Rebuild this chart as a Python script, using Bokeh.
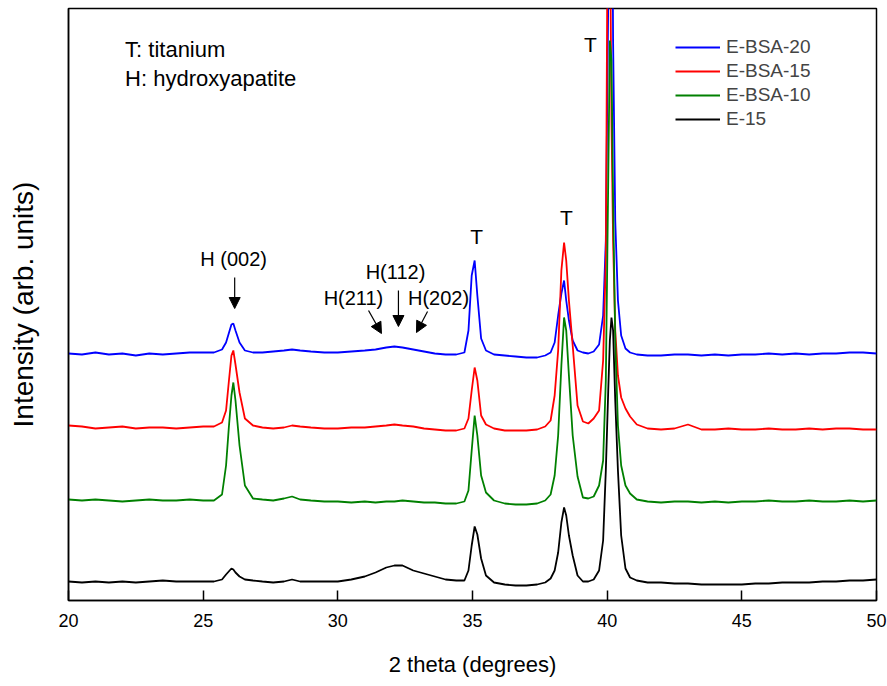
from bokeh.plotting import figure
from bokeh.models import (Range1d, FixedTicker, Label, Arrow, NormalHead,
                          Legend, LegendItem)
from bokeh.embed import file_html
from bokeh.resources import INLINE

FONT = "Liberation Sans"

# 2 theta (degrees), shared sampling grid
two_theta = [
    20, 20.5, 21, 21.5, 22, 22.5, 23, 23.5, 24, 24.5, 25,
    25.4, 25.7, 25.85, 25.95, 26.05, 26.12, 26.2, 26.35, 26.55, 26.85,
    27.2, 27.6, 28, 28.3, 28.6, 29, 29.5, 30, 30.5, 31, 31.4, 31.8, 32.1, 32.4, 32.8, 33.2, 33.6, 34, 34.4, 34.7,
    34.85, 34.97, 35.08, 35.18, 35.32, 35.5, 35.8,
    36.2, 36.6, 37, 37.4, 37.7, 37.9, 38.05, 38.18, 38.3, 38.4, 38.48, 38.58, 38.72, 38.9,
    39.1, 39.3, 39.5, 39.7, 39.85, 39.95, 40.04, 40.1, 40.16, 40.22, 40.3, 40.4, 40.52, 40.68, 40.85, 41.1, 41.5,
    42, 42.5, 43, 43.5, 44, 44.5, 45, 45.5, 46, 46.5, 47, 47.5, 48, 48.5, 49, 49.5, 50,
]

# intensities (arb. units, already vertically offset)
e_bsa_20 = [
    247, 246, 248, 246, 247, 245, 247, 246, 247, 248, 248,
    248, 251, 258, 267, 276, 277, 270, 258, 250, 248,
    248, 249, 250, 251, 250, 249, 248, 248, 249, 250, 251, 253, 254, 253, 251, 249, 247, 246, 246, 248,
    270, 325, 340, 305, 262, 250, 246,
    245, 244, 243, 243, 245, 248, 258, 285, 307, 320, 300, 280, 260, 250,
    248, 247, 249, 256, 285, 360, 600, 900, 850, 560, 380, 300, 265, 252, 248, 246, 245,
    245, 246, 246, 245, 246, 245, 246, 246, 247, 246, 247, 246, 247, 247, 248, 248, 247,
]
e_bsa_15 = [
    175, 174, 172, 173, 174, 172, 173, 173, 172, 173, 174,
    174, 178, 190, 218, 245, 250, 236, 208, 182, 175,
    173, 172, 173, 175, 174, 173, 172, 172, 173, 173, 174, 175, 176, 175, 174, 172, 171, 170, 170, 172,
    182, 210, 233, 220, 185, 176, 172,
    170, 170, 170, 171, 174, 180, 205, 250, 330, 358, 340, 300, 255, 195,
    179, 177, 182, 190, 240, 340, 800, 700, 480, 360, 270, 225, 203, 192, 184, 176, 172,
    171, 172, 176, 171, 171, 172, 171, 171, 172, 171, 171, 172, 171, 172, 172, 171, 171,
]
e_bsa_10 = [
    101, 100, 101, 100, 99, 100, 101, 100, 100, 101, 100,
    100, 106, 135, 172, 205, 218, 200, 155, 115, 102,
    101, 100, 102, 104, 101, 100, 99, 99, 98, 99, 98, 99, 99, 100, 99, 98, 98, 97, 97, 99,
    110, 150, 185, 165, 125, 108, 100,
    97, 96, 96, 97, 100, 106, 125, 165, 235, 283, 270, 225, 165, 124,
    103, 102, 104, 115, 140, 220, 420, 560, 540, 400, 260, 175, 135, 115, 107, 101, 99,
    98, 99, 99, 98, 99, 98, 99, 99, 100, 99, 99, 100, 99, 99, 100, 99, 100,
]
e_15 = [
    19, 18, 19, 18, 19, 18, 19, 20, 19, 19, 19,
    19, 21, 26, 29, 32, 31, 28, 24, 21, 20,
    19, 18, 19, 21, 19, 19, 19, 19, 21, 24, 28, 33, 35, 35, 30, 27, 24, 21, 20, 20,
    30, 55, 74, 66, 42, 25, 18,
    16, 15, 15, 16, 18, 22, 30, 48, 78, 93, 85, 65, 45, 25,
    19, 19, 21, 30, 60, 130, 210, 260, 283, 270, 200, 130, 65, 32, 23, 20, 18,
    18, 17, 17, 16, 16, 16, 16, 17, 17, 18, 18, 18, 19, 19, 20, 20, 21,
]

series_names = ["E-BSA-20", "E-BSA-15", "E-BSA-10", "E-15"]
series_colors = ["#0000ff", "#ff0000", "#008000", "#000000"]

x_ticks = [20, 25, 30, 35, 40, 45, 50]

p = figure(width=887, height=686, x_range=Range1d(20, 50), y_range=Range1d(0, 592),
           output_backend="svg", toolbar_location=None,
           min_border_left=68, min_border_right=11, min_border_top=8, min_border_bottom=86)
p.xgrid.visible = False
p.ygrid.visible = False
p.outline_line_color = "black"
p.outline_line_width = 1.5
p.background_fill_color = "white"

ys = [e_bsa_20, e_bsa_15, e_bsa_10, e_15]
renderers = []
for name, col, yv in zip(series_names, series_colors, ys):
    r = p.line(two_theta, yv, line_color=col, line_width=1.8)
    renderers.append(r)

# x axis
xa = p.xaxis[0]
xa.ticker = FixedTicker(ticks=x_ticks)
xa.major_tick_in = 10
xa.major_tick_out = 0
xa.minor_tick_in = 0
xa.minor_tick_out = 0
xa.axis_line_width = 1.5
xa.major_tick_line_width = 1.5
xa.major_label_text_font = FONT
xa.major_label_text_font_size = "18px"
xa.major_label_text_color = "black"
xa.major_label_standoff = 13
xa.axis_label = "2 theta (degrees)"
xa.axis_label_text_font = FONT
xa.axis_label_text_font_size = "22px"
xa.axis_label_text_font_style = "normal"
xa.axis_label_text_color = "black"
xa.axis_label_standoff = 22

ya = p.yaxis[0]
ya.ticker = FixedTicker(ticks=[])
ya.axis_line_width = 1.5
ya.major_tick_in = 0
ya.major_tick_out = 0
ya.minor_tick_in = 0
ya.minor_tick_out = 0
ya.axis_label = "Intensity (arb. units)"
ya.axis_label_text_font = FONT
ya.axis_label_text_font_size = "28px"
ya.axis_label_text_font_style = "normal"
ya.axis_label_text_color = "black"
ya.axis_label_standoff = 30

# legend
items = [LegendItem(label=n, renderers=[r]) for n, r in zip(series_names, renderers)]
leg = Legend(items=items, location=(607, 470), border_line_color=None,
             background_fill_alpha=0, label_text_font=FONT, label_text_font_size="19px",
             glyph_width=45, glyph_height=20, label_height=20, spacing=2,
             padding=0, margin=0, label_standoff=6)
p.add_layout(leg)

def add_label(x, y, text, size="19px", align="center"):
    p.add_layout(Label(x=x, y=y, text=text, text_font=FONT, text_font_size=size,
                       text_align=align, text_baseline="middle", text_color="black"))

add_label(22.1, 551, "T: titanium", size="22px", align="left")
add_label(22.1, 522, "H: hydroxyapatite", size="22px", align="left")
add_label(35.15, 364, "T", size="21px")
add_label(38.49, 383, "T", size="21px")
add_label(39.38, 556, "T", size="21px")
add_label(26.13, 342, "H (002)", size="20px")
add_label(32.14, 329, "H(112)", size="20px")
add_label(30.58, 303, "H(211)", size="20px")
add_label(33.74, 303, "H(202)", size="20px")

def add_arrow(x0, y0, x1, y1):
    p.add_layout(Arrow(end=NormalHead(size=11, fill_color="black", line_color="black"),
                       x_start=x0, y_start=y0, x_end=x1, y_end=y1,
                       line_color="black", line_width=1.2))

add_arrow(26.17, 323, 26.17, 292)
add_arrow(32.25, 310, 32.25, 274)
add_arrow(31.14, 290, 31.62, 267)
add_arrow(33.33, 289, 32.92, 268)

open("out.html", "w").write(file_html(p, INLINE))
